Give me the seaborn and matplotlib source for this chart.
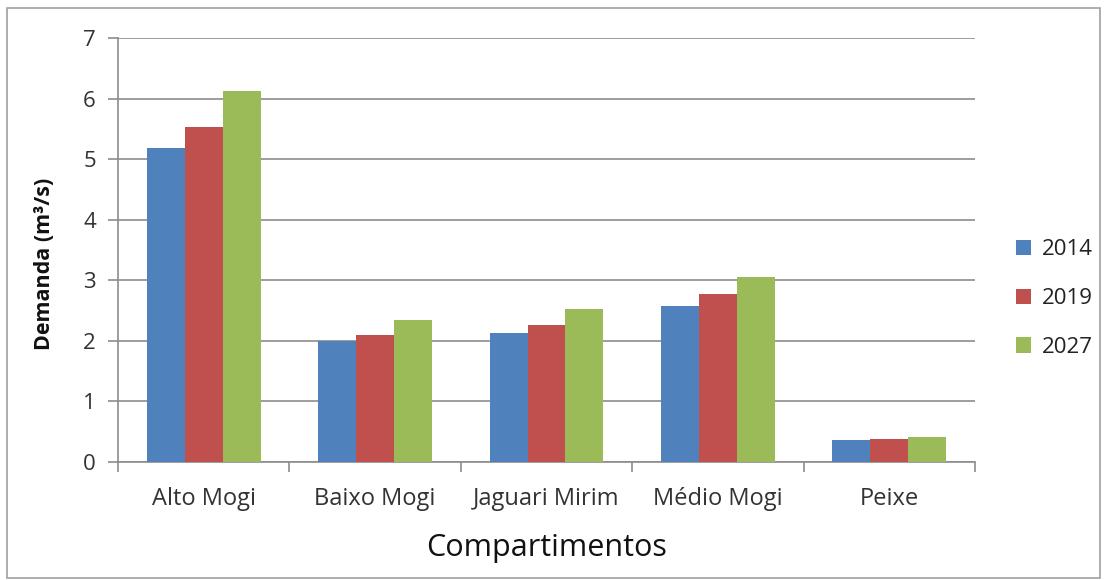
import matplotlib
matplotlib.use("Agg")
import matplotlib.pyplot as plt
import seaborn as sns
import pandas as pd
from matplotlib.patches import Rectangle
from matplotlib.ticker import FixedLocator

categories = ["Alto Mogi", "Baixo Mogi", "Jaguari Mirim", "Médio Mogi", "Peixe"]
years = ["2014", "2019", "2027"]
v2014 = [5.18, 1.99, 2.13, 2.58, 0.36]
v2019 = [5.53, 2.10, 2.26, 2.77, 0.385]
v2027 = [6.12, 2.34, 2.53, 3.06, 0.41]
colors = ["#4F81BD", "#C0504D", "#9BBB59"]

rows = []
for y, vals in zip(years, [v2014, v2019, v2027]):
    for c, v in zip(categories, vals):
        rows.append({"Compartimento": c, "Ano": y, "Demanda": v})
df = pd.DataFrame(rows)

sns.set_style("white")
plt.rcParams['font.family'] = ['Open Sans', 'DejaVu Sans']

fig = plt.figure(figsize=(11.08, 5.80), dpi=100)
ax = fig.add_axes([118/1108, 1 - 462/580, (975-118)/1108, (462-38)/580])

sns.barplot(data=df, x="Compartimento", y="Demanda", hue="Ano",
            palette=colors, width=0.665, gap=0, saturation=1,
            ax=ax, errorbar=None, zorder=3, linewidth=0, edgecolor="none")

ax.set_ylim(0, 7)
ax.set_xlim(-0.5, 4.5)
ax.set_yticks(range(0, 8))
ax.yaxis.grid(True, color="#8c8c8c", linewidth=1.2, zorder=0)
ax.set_axisbelow(True)
for s in ["top", "right"]:
    ax.spines[s].set_visible(False)
for s in ["left", "bottom"]:
    ax.spines[s].set_color("#8c8c8c")
    ax.spines[s].set_linewidth(1.2)

ax.tick_params(axis="y", which="major", length=7, width=1.2, color="#8c8c8c",
               labelsize=16, labelcolor="#333333", pad=9, left=True)
ax.tick_params(axis="x", which="major", length=0, labelsize=17,
               labelcolor="#333333", pad=18)
ax.xaxis.set_minor_locator(FixedLocator([-0.5, 0.5, 1.5, 2.5, 3.5, 4.5]))
ax.tick_params(axis="x", which="minor", length=7, width=1.2, color="#8c8c8c", bottom=True)

ax.set_xlabel("Compartimentos", fontsize=22, color="#111111", labelpad=16)
ax.set_ylabel("Demanda (m³/s)", fontsize=15.5, fontweight="bold", color="#111111")
ax.yaxis.set_label_coords(-0.073, 0.468)

leg = ax.legend(loc="center left", bbox_to_anchor=(1.024, 0.385), frameon=False,
                fontsize=16, handlelength=0.7, handleheight=0.7,
                labelspacing=1.25, handletextpad=0.5)
for t in leg.get_texts():
    t.set_color("#222222")

fig.patches.append(Rectangle((7/1108, 2/580), 1093/1108, 570/580, transform=fig.transFigure,
                             fill=False, edgecolor="#a0a0a0", linewidth=1.2))

fig.savefig("out.png", dpi=100)
